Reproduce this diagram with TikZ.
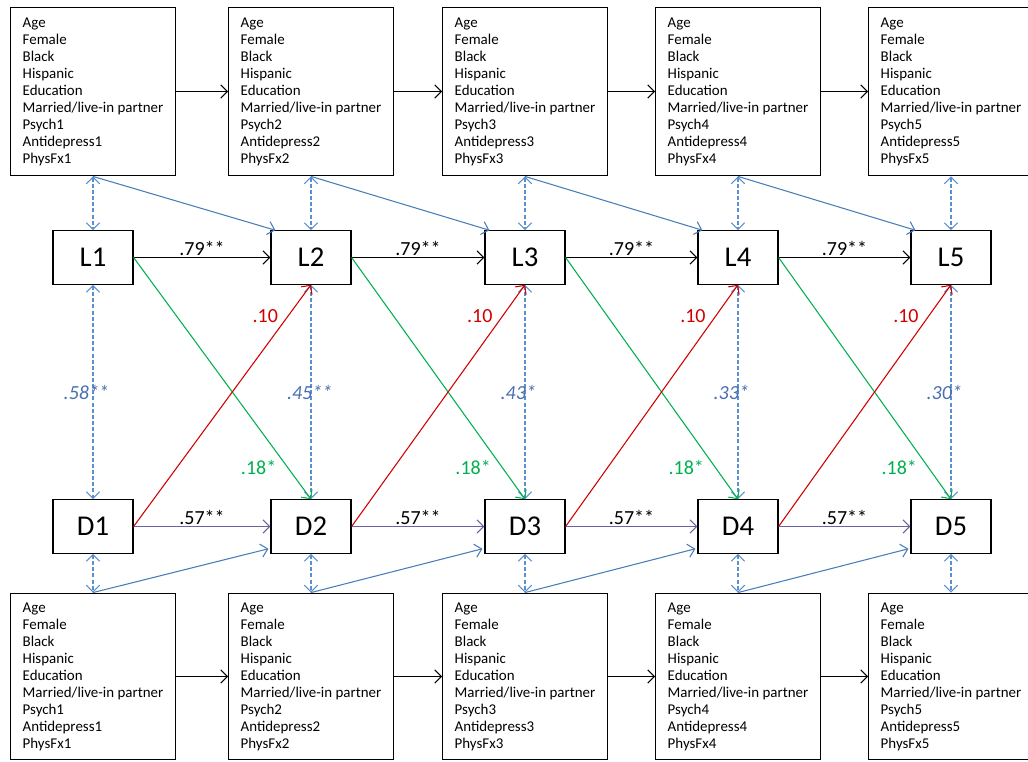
\documentclass[tikz,border=0pt]{standalone}
\usepackage{fontspec}
\setmainfont{Carlito}
\usetikzlibrary{arrows.meta,positioning,calc}
\definecolor{PathBlue}{HTML}{4A7EBB}
\definecolor{DashBlue}{HTML}{5B8FD0}
\definecolor{CoefBlue}{HTML}{4A6FAF}
\definecolor{PathGreen}{HTML}{00B050}
\definecolor{PathRed}{HTML}{D00000}
\definecolor{PathPurple}{HTML}{7060A0}
\newcommand{\covlist}[1]{Age\\Female\\Black\\Hispanic\\Education\\Married/live-in partner\\Psych#1\\Antidepress#1\\PhysFx#1}
\tikzset{
  covbox/.style={draw,line width=0.9pt,align=left,minimum width=122pt,inner xsep=9pt,
                 minimum height=126.5pt,font=\fontsize{11.2}{12.75}\selectfont},
  latbox/.style={draw,line width=0.9pt,minimum width=60pt,minimum height=40pt,
                 font=\fontsize{21.5}{24}\selectfont},
  onetip/.style={line width=0.8pt,-{Straight Barb[length=5pt,width=10pt]}},
  twotip/.style={line width=0.8pt,DashBlue,dash pattern=on 3pt off 1.6pt,
                 {Straight Barb[length=5pt,width=10pt]}-{Straight Barb[length=5pt,width=10pt]}},
  coef/.style={font=\fontsize{15}{17}\selectfont,inner sep=1pt},
  rcoef/.style={coef,CoefBlue,font=\fontsize{15}{17}\selectfont\itshape}
}
\begin{document}
\begin{tikzpicture}[x=0.75pt,y=-0.75pt]
\clip (0,0) rectangle (1028,762);
\foreach \i/\x in {1/93,2/311,3/525,4/738,5/951}{
  \node[covbox] (T\i) at (\x,91.5) {\covlist{\i}};
  \node[latbox] (L\i) at (\x,257.5) {L\i};
  \node[latbox] (D\i) at (\x,526.5) {D\i};
  \node[covbox,minimum height=125pt] (B\i) at (\x,676.5) {\covlist{\i}};
  \draw[twotip] (T\i.south) -- (L\i.north);
  \draw[twotip] (D\i.south) -- (B\i.north);
}
\foreach \i/\r/\s in {1/.58**/-5pt,2/.45**/-1pt,3/.43*/-5pt,4/.33*/-5pt,5/.30*/-5pt}
  \draw[twotip] (L\i.south) -- node[rcoef,xshift=\s]{\r} (D\i.north);
\foreach \i/\j in {1/2,2/3,3/4,4/5}{
  \draw[onetip] (T\i.east) -- (T\j.west);
  \draw[onetip,PathBlue] (T\i.south) -- ($(L\j.north west)+(5,0)$);
  \draw[onetip] (L\i.east) -- node[above,coef]{.79**} (L\j.west);
  \draw[onetip,PathGreen] (L\i.east) -- node[pos=0.87,xshift=-22pt,coef]{.18*} (D\j.north);
  \draw[onetip,PathRed] (D\i.east) -- node[pos=0.87,xshift=-17pt,coef]{.10} (L\j.south);
  \draw[onetip,PathPurple] (D\i.east) -- node[above,coef,black]{.57**} (D\j.west);
  \draw[onetip,PathBlue] (B\i.north) -- ($(D\j.south west)+(-2,-5)$);
  \draw[onetip] (B\i.east) -- (B\j.west);
}
\end{tikzpicture}
\end{document}
